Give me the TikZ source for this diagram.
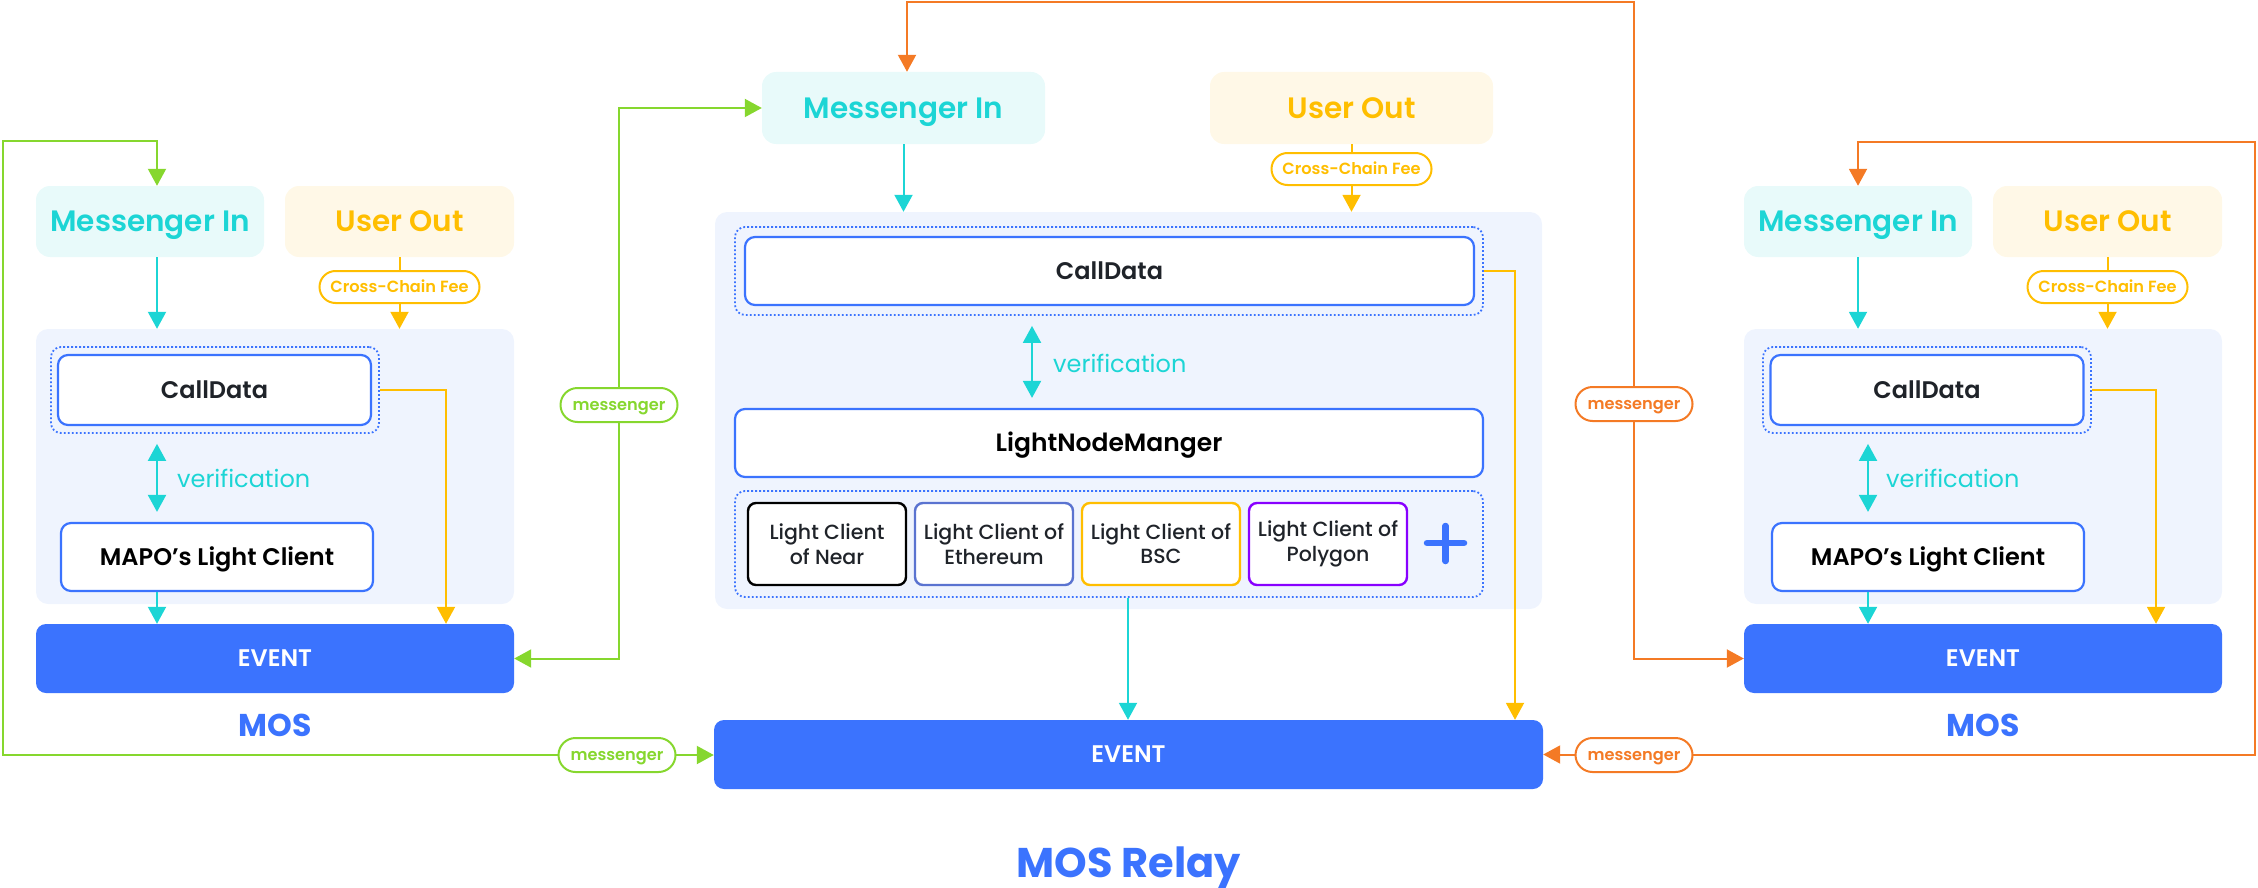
\documentclass[tikz,border=0pt]{standalone}
\usepackage{fontspec}
\setmainfont{Poppins}
\newfontfamily\psb{Poppins SemiBold}
\newfontfamily\pmd{Poppins Medium}
\usetikzlibrary{arrows.meta,calc}
\definecolor{cyanC}{HTML}{1CD5D5}
\definecolor{yelC}{HTML}{FFBE00}
\definecolor{grnC}{HTML}{86D72E}
\definecolor{orgC}{HTML}{F47A25}
\definecolor{blueC}{HTML}{3B73FE}
\definecolor{panC}{HTML}{EFF4FE}
\definecolor{minF}{HTML}{E8FAFA}
\definecolor{uoF}{HTML}{FFF8E7}
\definecolor{ethC}{HTML}{5A73D0}
\definecolor{purC}{HTML}{8800FF}
\definecolor{darkT}{HTML}{1F2329}
\tikzset{tri/.tip={Triangle[width=18pt,length=17pt]}}
\begin{document}
\begin{tikzpicture}[x=1pt,y=-1pt,
  headbox/.style={rounded corners=14pt, inner sep=0pt, text height=20.5pt, text depth=0pt, font=\psb\fontsize{29.5pt}{30pt}\selectfont},
  minbox/.style={headbox, fill=minF, text=cyanC},
  uobox/.style={headbox, fill=uoF, text=yelC},
  panel/.style={fill=panC, rounded corners=12pt, inner sep=0pt},
  dotbox/.style={draw=blueC, line width=1.8pt, dash pattern=on 1.8pt off 2.2pt, rounded corners=10pt, inner sep=0pt},
  wbox/.style={draw=blueC, line width=2.2pt, fill=white, rounded corners=10pt, inner sep=0pt, text=darkT, text height=16.7pt, text depth=0pt, font=\psb\fontsize{24pt}{25pt}\selectfont},
  evbox/.style={fill=blueC, rounded corners=10pt, inner sep=0pt, text=white, text height=16.7pt, text depth=0pt, font=\psb\fontsize{24pt}{25pt}\selectfont},
  lcbox/.style={draw, line width=2.4pt, fill=white, rounded corners=8pt, inner sep=0pt, text=darkT, align=center, minimum width=158pt, minimum height=82pt, font=\pmd\fontsize{20.5pt}{24.5pt}\selectfont},
  pill/.style={draw, line width=2pt, fill=white, rounded corners=17pt, inner sep=0pt, minimum height=34pt, text height=11.3pt, text depth=0pt, font=\psb\fontsize{16.2pt}{17pt}\selectfont},
  fee/.style={pill, draw=yelC, text=yelC, minimum width=160pt, minimum height=32pt, rounded corners=16pt},
  msg/.style={pill, minimum width=117pt},
  ln/.style={line width=2pt},
  verif/.style={text=cyanC, anchor=west, inner sep=0pt, font=\fontsize{24pt}{25pt}\selectfont},
  mos/.style={text=blueC, anchor=base, inner sep=0pt, font=\bfseries\fontsize{31.5pt}{32pt}\selectfont}
]
\useasboundingbox (0,0) rectangle (2258,888);

% ---------- left MOS ----------
\node[minbox, minimum width=228pt, minimum height=71pt] (minA) at (150,221.5) {Messenger In};
\node[uobox, minimum width=229pt, minimum height=71pt] (uoA) at (399.5,221.5) {User Out};
\node[fee] (feeA) at (399.5,287) {Cross-Chain Fee};
\node[panel, minimum width=478pt, minimum height=275pt] (panA) at (275,466.5) {};
\node[dotbox, minimum width=328pt, minimum height=86pt] (dotA) at (215,390) {};
\node[wbox, minimum width=313pt, minimum height=70pt] (callA) at (214.5,390) {CallData};
\node[wbox, minimum width=312pt, minimum height=68pt, text=black] (mapoA) at (217,557) {MAPO’s Light Client};
\node[evbox, minimum width=478pt, minimum height=69pt] (evA) at (275,658.5) {EVENT};
\node[mos] (mosA) at (275,736) {MOS};
\coordinate (vA) at (157,0);
\coordinate (yA) at (446,0);
\draw[ln, cyanC, -tri] (minA.south -| vA) -- (panA.north -| vA);
\draw[ln, cyanC, tri-tri] ($(dotA.south -| vA)+(0,10)$) -- ($(mapoA.north -| vA)+(0,-10)$);
\node[verif] (vlA) at (177,478) {verification};
\draw[ln, cyanC, -tri] (mapoA.south -| vA) -- (evA.north -| vA);
\draw[ln, yelC] (uoA.south) -- (feeA.north);
\draw[ln, yelC, -tri] (feeA.south) -- (panA.north -| feeA.south);
\draw[ln, yelC, -tri] (dotA.east) -- (dotA.east -| yA) -- (evA.north -| yA);

% ---------- right MOS ----------
\node[minbox, minimum width=228pt, minimum height=71pt] (minC) at (1858,221.5) {Messenger In};
\node[uobox, minimum width=229pt, minimum height=71pt] (uoC) at (2107.5,221.5) {User Out};
\node[fee] (feeC) at (2107.5,287) {Cross-Chain Fee};
\node[panel, minimum width=478pt, minimum height=275pt] (panC) at (1983,466.5) {};
\node[dotbox, minimum width=328pt, minimum height=86pt] (dotC) at (1927,390) {};
\node[wbox, minimum width=313pt, minimum height=70pt] (callC) at (1927,390) {CallData};
\node[wbox, minimum width=312pt, minimum height=68pt, text=black] (mapoC) at (1928,557) {MAPO’s Light Client};
\node[evbox, minimum width=478pt, minimum height=69pt] (evC) at (1983,658.5) {EVENT};
\node[mos] (mosC) at (1983,736) {MOS};
\coordinate (vC) at (1868,0);
\coordinate (yC) at (2156,0);
\draw[ln, cyanC, -tri] (minC.south) -- (panC.north -| minC.south);
\draw[ln, cyanC, tri-tri] ($(dotC.south -| vC)+(0,10)$) -- ($(mapoC.north -| vC)+(0,-10)$);
\node[verif] (vlC) at (1886,478) {verification};
\draw[ln, cyanC, -tri] (mapoC.south -| vC) -- (evC.north -| vC);
\draw[ln, yelC] (uoC.south) -- (feeC.north);
\draw[ln, yelC, -tri] (feeC.south) -- (panC.north -| feeC.south);
\draw[ln, yelC, -tri] (dotC.east) -- (dotC.east -| yC) -- (evC.north -| yC);

% ---------- relay ----------
\node[minbox, minimum width=283pt, minimum height=72pt] (minB) at (903.5,108) {Messenger In};
\node[uobox, minimum width=283pt, minimum height=72pt] (uoB) at (1351.5,108) {User Out};
\node[fee] (feeB) at (1351.5,169) {Cross-Chain Fee};
\node[panel, minimum width=827pt, minimum height=397pt] (panB) at (1128.5,410.5) {};
\node[dotbox, minimum width=748pt, minimum height=88pt] (dotB) at (1109,271) {};
\node[wbox, minimum width=729pt, minimum height=68pt] (callB) at (1109.5,271) {CallData};
\node[wbox, minimum width=748pt, minimum height=68pt, text=black, text height=17.4pt, font=\psb\fontsize{25pt}{26pt}\selectfont] (lnm) at (1109,443) {LightNodeManger};
\node[dotbox, minimum width=748pt, minimum height=106pt] (dotB2) at (1109,544) {};
\node[lcbox, draw=black] (lcN) at (827,544) {\raisebox{-3pt}{\shortstack{Light Client\\[1pt]of Near}}};
\node[lcbox, draw=ethC] (lcE) at (994,544) {\raisebox{-3pt}{\shortstack{Light Client of\\[1pt]Ethereum}}};
\node[lcbox, draw=yelC] (lcB) at (1161,544) {\raisebox{-3pt}{\shortstack{Light Client of\\[1pt]BSC}}};
\node[lcbox, draw=purC] (lcP) at (1328,544) {\raisebox{-3pt}{\shortstack{Light Client of\\[1pt]Polygon}}};
\draw[blueC, line width=6.5pt, line cap=round] (1427,543) -- (1464,543) (1445.5,526) -- (1445.5,561);
\node[evbox, minimum width=829pt, minimum height=69pt] (evB) at (1128.5,754.5) {EVENT};
\node[mos, font=\bfseries\fontsize{41.5pt}{42pt}\selectfont] (mosB) at (1129,877) {MOS Relay};
\coordinate (vB) at (1032,0);
\coordinate (cB) at (1128,0);
\coordinate (yB) at (1515,0);
\draw[ln, cyanC, -tri] (minB.south) -- (panB.north -| minB.south);
\draw[ln, cyanC, tri-tri] ($(dotB.south -| vB)+(0,10)$) -- ($(lnm.north -| vB)+(0,-10)$);
\node[verif] (vlB) at (1053,363) {verification};
\draw[ln, cyanC, -tri] (dotB2.south -| cB) -- (evB.north -| cB);
\draw[ln, yelC] (uoB.south) -- (feeB.north);
\draw[ln, yelC, -tri] (feeB.south) -- (panB.north -| feeB.south);
\draw[ln, yelC, -tri] (dotB.east) -- (dotB.east -| yB) -- (evB.north -| yB);

% ---------- messenger connectors ----------
\coordinate (g1a) at (157,141);
\coordinate (g1b) at (2.5,141);
\coordinate (g1c) at (2.5,755);
\draw[ln, grnC, tri-tri] (minA.north -| g1a) -- (g1a) -- (g1b) -- (g1c) -- (g1c -| evB.west);
\node[msg, draw=grnC, text=grnC] (gp1) at (617,755) {messenger};

\coordinate (g2x) at (619,0);
\draw[ln, grnC, tri-tri] (minB.west) -- (minB.west -| g2x) -- (evA.east -| g2x) -- (evA.east);
\node[msg, draw=grnC, text=grnC] (gp2) at (619,405) {messenger};

\coordinate (o1a) at (907,2.5);
\coordinate (o1b) at (1634,2.5);
\draw[ln, orgC, tri-tri] (minB.north -| o1a) -- (o1a) -- (o1b) -- (o1b |- evC.west) -- (evC.west);
\node[msg, draw=orgC, text=orgC] (op1) at (1634,404) {messenger};

\coordinate (o2a) at (2255,142);
\coordinate (o2b) at (1858,142);
\draw[ln, orgC, tri-tri] (evB.east) -- (evB.east -| o2a) -- (o2a) -- (o2b) -- (minC.north -| o2b);
\node[msg, draw=orgC, text=orgC] (op2) at (1634,755) {messenger};
\end{tikzpicture}
\end{document}
